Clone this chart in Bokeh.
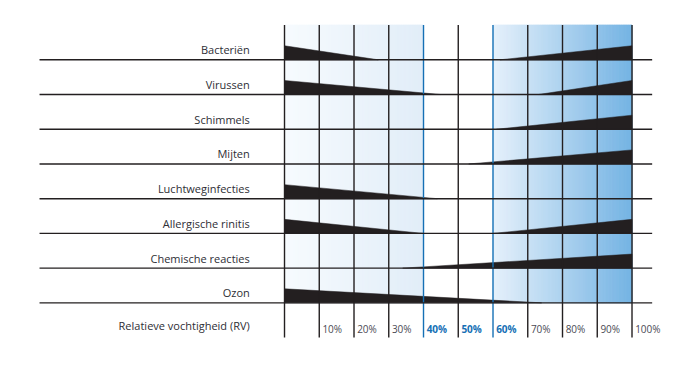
from bokeh.plotting import figure
from bokeh.models import Range1d
from bokeh.core.properties import value
from bokeh.embed import file_html
from bokeh.resources import INLINE

# ---- data ----
categories = ["Bacteriën", "Virussen", "Schimmels", "Mijten",
              "Luchtweginfecties", "Allergische rinitis", "Chemische reacties", "Ozon"]
# RH (%) where the "too dry" risk wedge (starting at 0%) fades out; None = no wedge
left_end = [27, 45, None, None, 44, 40, None, 74]
# RH (%) where the "too humid" risk wedge (ending at 100%) starts; None = no wedge
right_start = [62, 73, 61, 53, None, 60, 34, None]
tick_values = [10, 20, 30, 40, 50, 60, 70, 80, 90, 100]
tick_labels = ["10%", "20%", "30%", "40%", "50%", "60%", "70%", "80%", "90%", "100%"]
optimal_zone = [40, 60]
axis_title = "Relatieve vochtigheid (RV)"

# ---- styles ----
DARK = "#231f20"
BLUE = "#1570b5"
FONT = "Open Sans"
WEDGE_H = 0.405  # row units

p = figure(width=669, height=362, output_backend="svg", toolbar_location=None,
           x_range=Range1d(-81.73, 110.79), y_range=Range1d(-1.718, 8.7085),
           min_border=0, outline_line_color=None)
p.axis.visible = False
p.grid.visible = False
p.background_fill_color = "white"
p.border_fill_color = "white"

n = len(categories)
ytop = n  # top of grid
ybot = -1  # bottom of vertical lines


def lerp(c1, c2, t):
    a = [int(c1[i:i + 2], 16) for i in (1, 3, 5)]
    b = [int(c2[i:i + 2], 16) for i in (1, 3, 5)]
    return "#%02x%02x%02x" % tuple(int(round(a[k] + (b[k] - a[k]) * t)) for k in range(3))


# background gradients (0-40 light, 60-100 stronger)
L, R, T, B, C = [], [], [], [], []
steps = 60
for s in range(steps):
    x0 = optimal_zone[0] * s / steps
    x1 = optimal_zone[0] * (s + 1) / steps
    L.append(x0); R.append(x1); T.append(ytop); B.append(0)
    C.append(lerp("#f7fbfe", "#e1edf8", (s + 0.5) / steps))
for s in range(steps):
    x0 = optimal_zone[1] + (100 - optimal_zone[1]) * s / steps
    x1 = optimal_zone[1] + (100 - optimal_zone[1]) * (s + 1) / steps
    L.append(x0); R.append(x1); T.append(ytop); B.append(0)
    C.append(lerp("#e6f1fb", "#74b3e3", (s + 0.5) / steps))
p.quad(left=L, right=R, top=T, bottom=B, fill_color=C, line_color=C, line_width=1)

# wedges
xs, ys = [], []
for i, cat in enumerate(categories):
    base = n - 1 - i
    if left_end[i] is not None:
        xs.append([0, 0, left_end[i]])
        ys.append([base, base + WEDGE_H, base])
    if right_start[i] is not None:
        xs.append([right_start[i], 100, 100])
        ys.append([base, base, base + WEDGE_H])
p.patches(xs, ys, fill_color=DARK, line_color=DARK, line_width=0.5)

# vertical grid lines
vx = [0] + tick_values
vcol = [BLUE if v in optimal_zone else DARK for v in vx]
p.segment(x0=vx, x1=vx, y0=[ytop] * len(vx), y1=[ybot] * len(vx),
          line_color=vcol, line_width=1.4)

# row baselines
rows_y = [n - 1 - i for i in range(n)]
p.segment(x0=[-70.5] * n, x1=[105.8] * n, y0=rows_y, y1=rows_y,
          line_color=DARK, line_width=1.4)

# row labels
p.text(x=[-10.0] * n, y=[b + 0.29 for b in rows_y], text=categories,
       text_font=value(FONT), text_font_size="11px", text_color="#2e2e35",
       text_align="right", text_baseline="middle")
p.text(x=[-10.0], y=[-0.66], text=[axis_title],
       text_font=value(FONT), text_font_size="11px", text_color="#2e2e35",
       text_align="right", text_baseline="middle")

# percentage labels
blue_ticks = [v for v in tick_values if optimal_zone[0] <= v <= optimal_zone[1]]
for v, lab in zip(tick_values, tick_labels):
    is_blue = v in blue_ticks
    p.text(x=[v + 0.9], y=[-0.74], text=[lab],
           text_font=value(FONT), text_font_size="10px",
           text_color=BLUE if is_blue else "#4a4a55",
           text_font_style="bold" if is_blue else "normal",
           text_align="left", text_baseline="middle")

open("out.html", "w").write(file_html(p, INLINE))
